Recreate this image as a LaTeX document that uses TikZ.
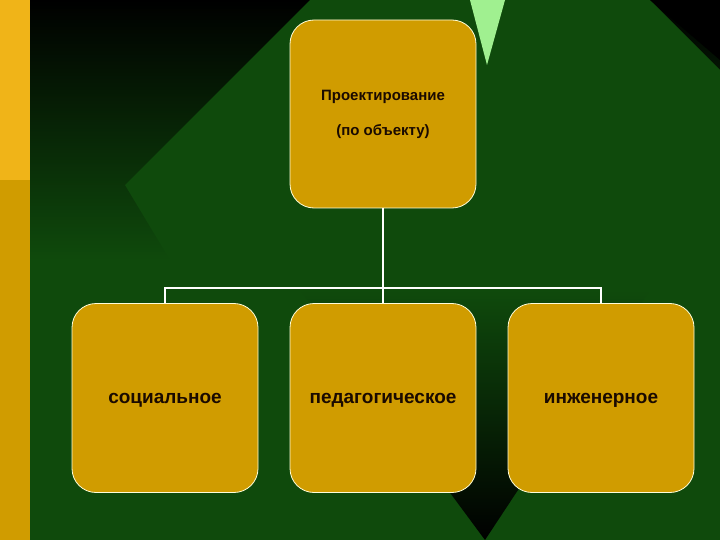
\documentclass[tikz,border=0pt]{standalone}
\usepackage{fontspec}
\setmainfont{Liberation Sans}
\definecolor{bggreen}{HTML}{0F4A0C}
\definecolor{gold}{HTML}{D09C00}
\definecolor{yel}{HTML}{F0B418}
\definecolor{lgreen}{HTML}{A0F090}
\definecolor{txt}{HTML}{1A0A00}
\begin{document}
\begin{tikzpicture}[x=1pt,y=-1pt,
  box/.style={draw=white!85!yellow,fill=gold,rounded corners=24pt,minimum width=186pt,line width=0.8pt,text=txt,inner sep=0pt},
  low/.style={box,minimum height=189pt,font=\bfseries\fontsize{19}{25}\selectfont,text height=14pt,text depth=4pt},
  conn/.style={draw=white,line width=1.5pt}]
\useasboundingbox (0,0) rectangle (720,540);
\fill[bggreen] (0,0) rectangle (720,540);
\shade[top color=black,bottom color=bggreen] (30,0) rectangle (720,260);
\fill[bggreen] (125,185) -- (310,0) -- (650,0) -- (720,70) -- (720,400) -- (485,540) -- (290,460) -- cycle;
\shade[top color=bggreen,bottom color=black] (300,290) -- (650,290) -- (485,540) -- cycle;
\fill[black] (650,0) -- (720,0) -- (720,60) -- cycle;
\fill[yel] (0,0) rectangle (30,180);
\fill[gold] (0,180) rectangle (30,540);
\fill[lgreen] (470,0) -- (505,0) -- (487,65) -- cycle;
\node[box,minimum height=188pt,font=\bfseries\fontsize{15}{35}\selectfont,align=center] (top) at (383,114) {Проектирование\\(по объекту)};
\node[low] (soc) at (165,398) {социальное};
\node[low] (ped) at (383,398) {педагогическое};
\node[low] (eng) at (601,398) {инженерное};
\coordinate (j) at (383,288);
\draw[conn] (top.south) -- (ped.north);
\draw[conn] (soc.north) |- (j) -| (eng.north);
\end{tikzpicture}
\end{document}
